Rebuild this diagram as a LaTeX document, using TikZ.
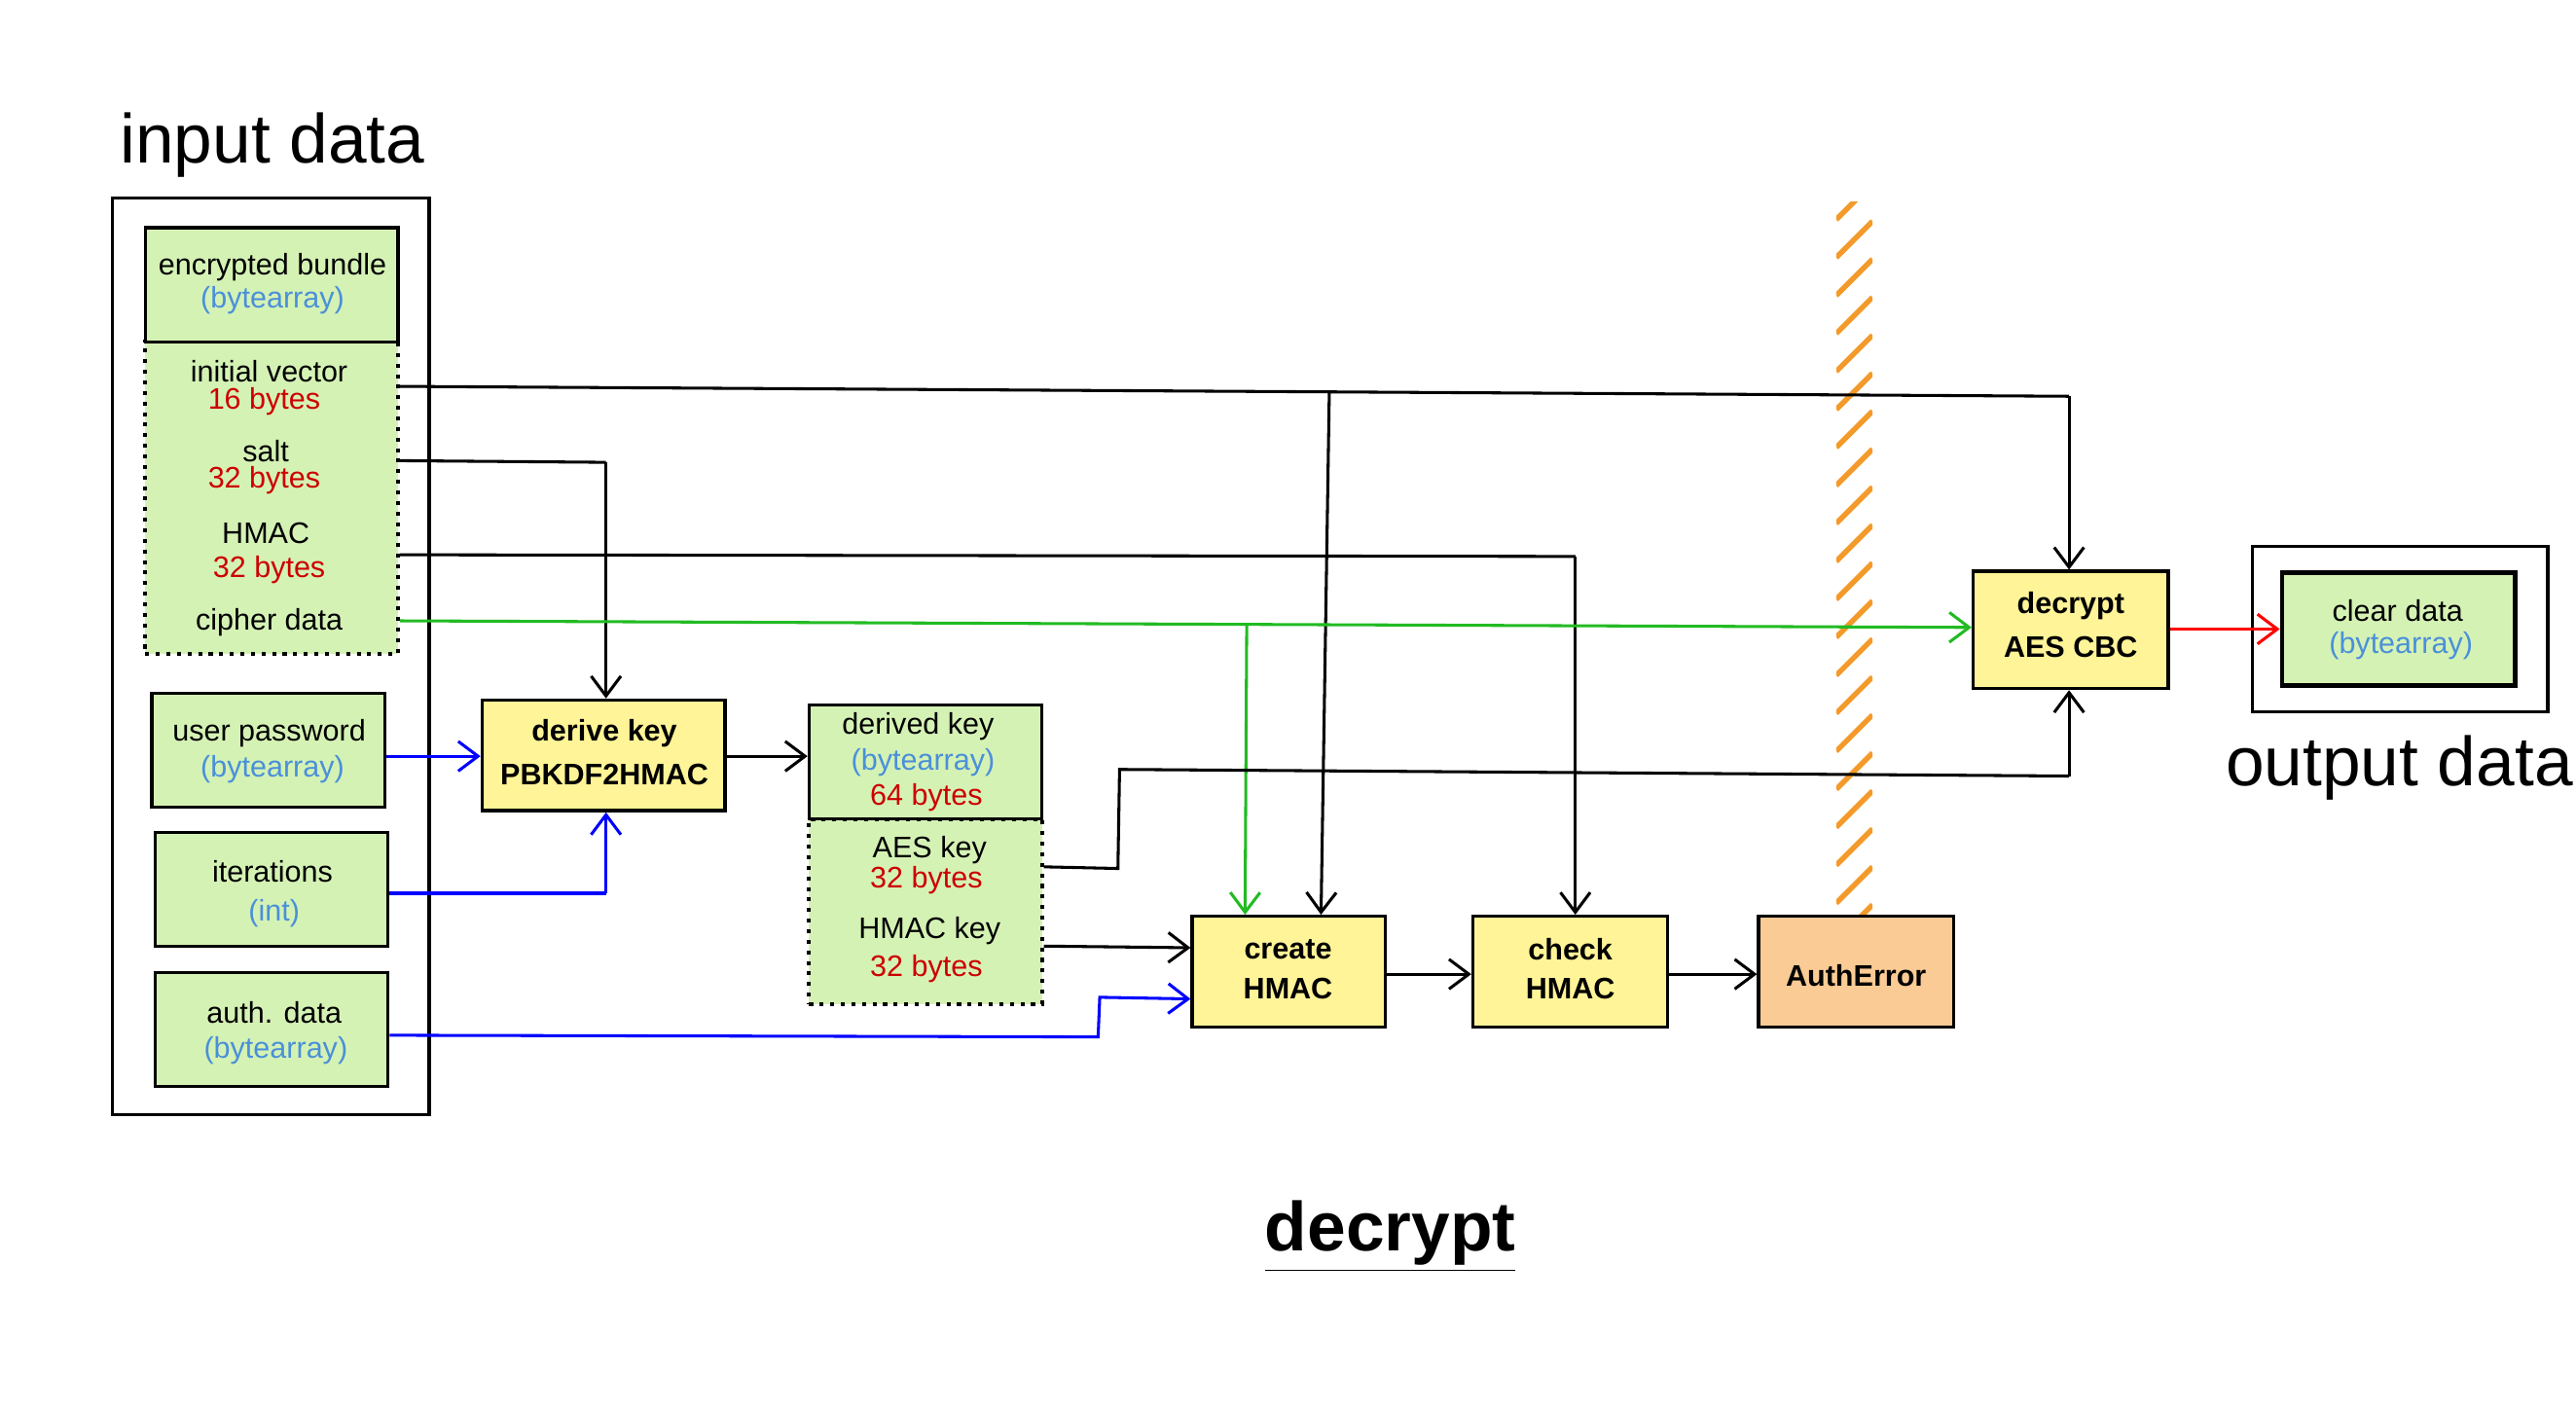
\documentclass[tikz,border=0pt]{standalone}
\usepackage{fontspec}
\setmainfont{Liberation Sans}
\usetikzlibrary{fit,arrows.meta}
\definecolor{gf}{HTML}{D5F2B5}
\definecolor{yf}{HTML}{FFF497}
\definecolor{of}{HTML}{FBCB95}
\definecolor{bt}{HTML}{4A90D9}
\definecolor{rt}{HTML}{CC0000}
\definecolor{gl}{HTML}{22BB22}
\definecolor{hat}{HTML}{F39A2A}
\begin{document}
\begin{tikzpicture}[x=0.5pt,y=-0.5pt,
  box/.style={draw,line width=1pt,inner sep=0pt,fill=gf},
  dbox/.style={draw,dotted,line width=1.2pt,inner sep=0pt,fill=gf},
  ybox/.style={draw,line width=1pt,inner sep=0pt,fill=yf},
  t/.style={font=\fontsize{9}{10}\selectfont,inner sep=0pt},
  b/.style={t,text=bt},
  r/.style={t,text=rt},
  bold/.style={t,font=\fontsize{9}{10}\selectfont\bfseries},
  arr/.style={line width=0.9pt,-{Straight Barb[length=6pt,width=9pt]}},
  ln/.style={line width=0.9pt}]
\useasboundingbox (0,0) rectangle (1560,853);
\node[font=\fontsize{21}{24}\selectfont] (tin) at (165,88) {input data};
\node[draw,line width=1pt,inner sep=0pt,fit={(68,120)(260,675)}] (inbox) {};
\node[dbox,fit={(88,207)(241,396)}] (ebd) {};
\node[box,fit={(88,138)(241,207)}] (eb) {};
\node[t] (eb1) at (165,162) {encrypted bundle};
\node[b] (eb2) at (165,182) {(bytearray)};
\node[t] (iv) at (163,225) {initial vector};
\node[r] (iv2) at (160,243) {16 bytes};
\node[t] (salt) at (161,273) {salt};
\node[r] (salt2) at (160,291) {32 bytes};
\node[t] (hm) at (161,323) {HMAC};
\node[r] (hm2) at (163,345) {32 bytes};
\node[t] (cd) at (163,377) {cipher data};
\node[box,fit={(92,420)(233,489)}] (up) {};
\node[t] (up1) at (163,444) {user password};
\node[b] (up2) at (165,466) {(bytearray)};
\node[box,fit={(94,504)(235,573)}] (it) {};
\node[t] (it1) at (165,528) {iterations};
\node[b] (it2) at (166,553) {(int)};
\node[box,fit={(94,589)(235,658)}] (ad) {};
\node[t] (ad1) at (166,613) {auth. data};
\node[b] (ad2) at (167,636) {(bytearray)};
\node[ybox,fit={(292,424)(439,491)}] (dk) {};
\node[bold] (dk1) at (366,444) {derive key};
\node[bold] (dk2) at (366,469) {PBKDF2HMAC};
\node[dbox,fit={(490,496)(631,608)}] (dvd) {};
\node[box,fit={(490,427)(631,496)}] (dv) {};
\node[t] (dv1) at (556,440) {derived key};
\node[b] (dv2) at (559,462) {(bytearray)};
\node[r] (dv3) at (561,483) {64 bytes};
\node[t] (ak) at (563,515) {AES key};
\node[r] (ak2) at (561,533) {32 bytes};
\node[t] (hk) at (563,564) {HMAC key};
\node[r] (hk2) at (561,587) {32 bytes};
\node[ybox,fit={(722,555)(839,622)}] (ch) {};
\node[bold] at (780,575) {create};
\node[bold] at (780,599) {HMAC};
\node[ybox,fit={(892,555)(1010,622)}] (kh) {};
\node[bold] at (951,575) {check};
\node[bold] at (951,599) {HMAC};
\begin{scope}
\clip (1112,122) rectangle (1134,555);
\foreach \y in {110,133,...,600} \draw[hat,line width=1.6pt] (1112,\y) -- (1134,\y-22);
\end{scope}
\node[draw,line width=1pt,inner sep=0pt,fill=of,fit={(1065,555)(1183,622)}] (ae) {};
\node[bold] at (1124,591) {AuthError};
\node[ybox,fit={(1195,346)(1313,417)}] (de) {};
\node[bold] at (1254,367) {decrypt};
\node[bold] at (1254,392) {AES CBC};
\node[draw,line width=1pt,inner sep=0pt,fit={(1364,331)(1543,431)}] (outbox) {};
\node[box,line width=1.4pt,fit={(1382,347)(1523,415)}] (cl) {};
\node[t] at (1452,370) {clear data};
\node[b] at (1454,391) {(bytearray)};
\node[font=\fontsize{21}{24}\selectfont] (tout) at (1453,465) {output data};
\node[font=\fontsize{21}{24}\selectfont\bfseries] (title) at (842,749) {\underline{decrypt}};
% connectors
\coordinate (ivb) at (1253,240);
\coordinate (ivs) at (805,238);
\draw[ln] (ebd.east|-0,234) -- (ivb);
\draw[arr] (ivb) -- (de.north-|ivb);
\draw[arr] (ivs) -- (ch.north-|800,0);
\coordinate (sb) at (367,280);
\draw[ln] (ebd.east|-0,279) -- (sb);
\draw[arr] (sb) -- (dk.north-|sb);
\coordinate (hb) at (954,337);
\draw[ln] (ebd.east|-0,336) -- (hb);
\draw[arr] (hb) -- (kh.north-|hb);
\draw[arr,gl] (ebd.east|-0,376) -- (de.west|-0,380);
\coordinate (cs) at (755,379);
\draw[arr,gl] (cs) -- (ch.north-|754,0);
\draw[arr,blue] (up.east|-0,458) -- (dk.west|-0,458);
\coordinate (itb) at (367,541);
\draw[ln,blue] (it.east|-itb) -- (itb);
\draw[arr,blue] (itb) -- (dk.south-|itb);
\coordinate (ad1b) at (665,628);
\coordinate (ad2b) at (666,604);
\draw[arr,blue] (ad.east|-0,627) -- (ad1b) -- (ad2b) -- (ch.west|-0,605);
\draw[arr] (dk.east|-0,458) -- (dv.west|-0,458);
\coordinate (a1) at (677,526);
\coordinate (a2) at (678,466);
\coordinate (a3) at (1253,470);
\draw[ln] (dvd.east|-0,525) -- (a1) -- (a2) -- (a3);
\draw[arr] (a3) -- (de.south-|a3);
\draw[arr] (dvd.east|-0,573) -- (ch.west|-0,574);
\draw[arr] (ch.east|-0,590) -- (kh.west|-0,590);
\draw[arr] (kh.east|-0,590) -- (ae.west|-0,590);
\draw[arr,red] (de.east|-0,381) -- (cl.west|-0,381);
\end{tikzpicture}
\end{document}
